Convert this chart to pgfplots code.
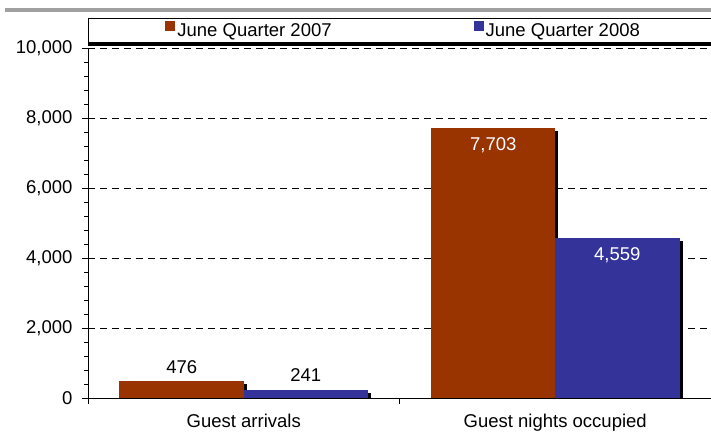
\documentclass[border=0pt]{standalone}
\usepackage{pgfplots}
\pgfplotsset{compat=1.18}
\usepackage{fontspec}
\setmainfont{Liberation Sans}
\usetikzlibrary{shadows}
\definecolor{q07}{HTML}{993300}
\definecolor{q08}{HTML}{333399}
\definecolor{rule}{HTML}{A0A0A0}
\begin{document}
\begin{tikzpicture}
\path[use as bounding box, clip] (-88bp,-34bp) rectangle (623bp,398bp);
\begin{axis}[
    scale only axis, width=623bp, height=350bp,
    xmin=0, xmax=2, ymin=0, ymax=10000,
    axis x line*=bottom, axis y line*=left,
    axis line style={black, line width=0.9bp},
    /pgf/number format/assume math mode=true,
    scaled y ticks=false,
    ytick={0,2000,...,10000}, minor y tick num=4,
    tick align=outside,
    major tick length=6bp, minor tick length=4bp,
    tick style={black, line width=0.8bp},
    ymajorgrids,
    major grid style={black, line width=0.8bp, dash pattern=on 7bp off 5bp},
    xtick={0,1,2}, xticklabels={},
    extra x ticks={0.5,1.5},
    extra x tick labels={Guest arrivals, Guest nights occupied},
    extra x tick style={major tick length=0pt, grid=none},
    ticklabel style={font=\fontsize{18.5bp}{22bp}\selectfont},
    yticklabel style={xshift=-6bp},
    xticklabel style={yshift=-13bp},
    nodes near coords style={font=\fontsize{18.5bp}{22bp}\selectfont},
    legend columns=2,
    legend style={at={(0,1)}, anchor=south west, yshift=5bp,
        draw=black, line width=0.8bp, fill=white,
        inner xsep=77bp, inner ysep=3bp,
        font=\fontsize{18.5bp}{22bp}\selectfont,
        /tikz/every even column/.append style={column sep=140bp}},
]
% June Quarter 2007
\addplot[ybar, bar width=0.4, bar shift=-0.2, fill=q07, draw=none,
    drop shadow={shadow xshift=3bp, shadow yshift=-3bp, fill=black, opacity=1},
    legend image code/.code={\pgfpathrectangle{\pgfpoint{-6bp}{-1bp}}{\pgfpoint{10bp}{10bp}}\pgfsetfillcolor{q07}\pgfusepath{fill}},
    nodes near coords, nodes near coords style={anchor=south, xshift=-62bp, yshift=4bp}]
    coordinates {(0.5,476)};
\addlegendentry{June Quarter 2007}
\addplot[ybar, bar width=0.4, bar shift=-0.2, fill=q07, draw=none, forget plot,
    drop shadow={shadow xshift=3bp, shadow yshift=-3bp, fill=black, opacity=1},
    nodes near coords, nodes near coords style={anchor=north, xshift=-62bp, yshift=-6bp, text=white}]
    coordinates {(1.5,7703)};
% June Quarter 2008
\addplot[ybar, bar width=0.4, bar shift=0.2, fill=q08, draw=none,
    drop shadow={shadow xshift=3bp, shadow yshift=-3bp, fill=black, opacity=1},
    legend image code/.code={\pgfpathrectangle{\pgfpoint{-6bp}{-1bp}}{\pgfpoint{10bp}{10bp}}\pgfsetfillcolor{q08}\pgfusepath{fill}},
    nodes near coords, nodes near coords style={anchor=south, xshift=62bp, yshift=5bp}]
    coordinates {(0.5,241)};
\addlegendentry{June Quarter 2008}
\addplot[ybar, bar width=0.4, bar shift=0.2, fill=q08, draw=none, forget plot,
    drop shadow={shadow xshift=3bp, shadow yshift=-3bp, fill=black, opacity=1},
    nodes near coords, nodes near coords style={anchor=north, xshift=62bp, yshift=-6bp, text=white}]
    coordinates {(1.5,4559)};
\end{axis}
\draw[black, line width=2.5bp] (0bp,353.5bp) -- (623bp,353.5bp);
\fill[rule] (-82.5bp,385.5bp) rectangle (623bp,390bp);
\end{tikzpicture}
\end{document}
